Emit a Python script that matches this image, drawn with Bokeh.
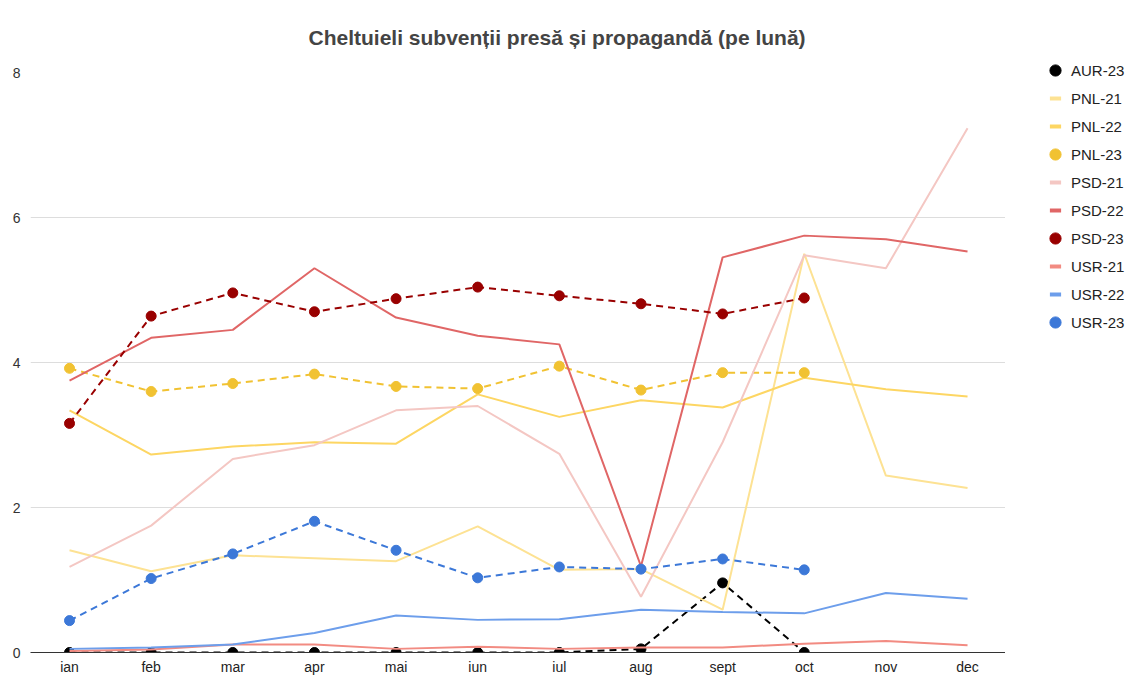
from bokeh.plotting import figure
from bokeh.layouts import row
from bokeh.models import Range1d, Legend, LegendItem, FixedTicker, ColumnDataSource
from bokeh.embed import file_html
from bokeh.resources import INLINE

months = ["ian", "feb", "mar", "apr", "mai", "iun", "iul", "aug", "sept", "oct", "nov", "dec"]

aur_23 = [0, 0, 0, 0, 0, 0, 0, 0.05, 0.96, 0]
pnl_21 = [1.41, 1.12, 1.34, 1.30, 1.26, 1.74, 1.14, 1.15, 0.59, 5.50, 2.44, 2.27]
pnl_22 = [3.34, 2.73, 2.84, 2.90, 2.88, 3.56, 3.25, 3.48, 3.38, 3.79, 3.63, 3.53]
pnl_23 = [3.92, 3.60, 3.71, 3.84, 3.67, 3.64, 3.95, 3.62, 3.86, 3.86]
psd_21 = [1.18, 1.75, 2.67, 2.86, 3.34, 3.40, 2.74, 0.77, 2.90, 5.48, 5.30, 7.23]
psd_22 = [3.75, 4.34, 4.45, 5.30, 4.62, 4.37, 4.25, 1.19, 5.45, 5.75, 5.70, 5.53]
psd_23 = [3.16, 4.64, 4.96, 4.70, 4.88, 5.04, 4.92, 4.81, 4.67, 4.89]
usr_21 = [0.02, 0.04, 0.11, 0.11, 0.05, 0.08, 0.05, 0.07, 0.07, 0.12, 0.16, 0.10]
usr_22 = [0.05, 0.07, 0.11, 0.27, 0.51, 0.45, 0.46, 0.59, 0.56, 0.54, 0.82, 0.74]
usr_23 = [0.44, 1.02, 1.36, 1.81, 1.41, 1.03, 1.18, 1.15, 1.29, 1.14]

series = [
    ("AUR-23", aur_23, "#000000", True),
    ("PNL-21", pnl_21, "#fde293", False),
    ("PNL-22", pnl_22, "#fdd663", False),
    ("PNL-23", pnl_23, "#f1c232", True),
    ("PSD-21", psd_21, "#f4c7c3", False),
    ("PSD-22", psd_22, "#e06666", False),
    ("PSD-23", psd_23, "#990000", True),
    ("USR-21", usr_21, "#f28b82", False),
    ("USR-22", usr_22, "#6d9eeb", False),
    ("USR-23", usr_23, "#3c78d8", True),
]

FONT = "Liberation Sans"

p = figure(width=1005, height=678, output_backend="svg", toolbar_location=None,
           x_range=Range1d(-0.478, 11.465), y_range=Range1d(0, 8),
           min_border_left=30, min_border_right=0, min_border_top=68, min_border_bottom=26)
p.outline_line_color = None
p.background_fill_color = "white"
p.border_fill_color = "white"
p.frame_align = False

p.title.text = "Cheltuieli subvenții presă și propagandă (pe lună)"
p.title.align = "left"
p.title.offset = 278
p.title.text_font = FONT
p.title.text_font_size = "21px"
p.title.text_font_style = "bold"
p.title.text_color = "#444444"
p.title.standoff = 47

p.xaxis.ticker = FixedTicker(ticks=list(range(12)))
p.xaxis.major_label_overrides = {i: m for i, m in enumerate(months)}
p.xaxis.axis_line_color = "#333333"
p.xaxis.major_tick_line_color = None
p.xaxis.major_tick_out = 0
p.xaxis.major_tick_in = 0
p.xaxis.minor_tick_line_color = None
p.xaxis.minor_tick_out = 0
p.xaxis.major_label_text_font = FONT
p.xaxis.major_label_text_font_size = "14px"
p.xaxis.major_label_text_color = "#222222"
p.xaxis.major_label_standoff = 6
p.xgrid.grid_line_color = None

p.yaxis.ticker = FixedTicker(ticks=[0, 2, 4, 6, 8])
p.yaxis.axis_line_color = None
p.yaxis.major_tick_line_color = None
p.yaxis.major_tick_out = 0
p.yaxis.major_tick_in = 0
p.yaxis.minor_tick_line_color = None
p.yaxis.minor_tick_out = 0
p.yaxis.major_label_text_font = FONT
p.yaxis.major_label_text_font_size = "14px"
p.yaxis.major_label_text_color = "#333333"
p.yaxis.major_label_standoff = 10
p.ygrid.grid_line_color = "#dddddd"
p.ygrid.grid_line_width = 1

# legend lives in a narrow blank figure to the right of the chart
lg = figure(width=125, height=678, output_backend="svg", toolbar_location=None,
            x_axis_type=None, y_axis_type=None,
            min_border_left=0, min_border_right=0, min_border_top=0, min_border_bottom=0)
lg.outline_line_color = None
lg.xgrid.grid_line_color = None
lg.ygrid.grid_line_color = None
lg.background_fill_color = "white"
lg.border_fill_color = "white"
lg.frame_align = False

items = []
for name, vals, color, dotted in series:
    xs = list(range(len(vals)))
    src = ColumnDataSource(dict(x=xs, y=vals))
    if dotted:
        p.line("x", "y", source=src, line_color=color, line_width=2, line_dash="7 5")
        p.scatter("x", "y", source=src, size=10, marker="circle",
                  fill_color=color, line_color=color)
        key = lg.scatter("x", "y", source=src, size=0, marker="circle",
                         fill_color=color, line_color=color)
    else:
        p.line("x", "y", source=src, line_color=color, line_width=2)
        key = lg.scatter("x", "y", source=src, size=0, marker="dash",
                         line_color=color, line_width=4)
    items.append(LegendItem(label=name, renderers=[key]))

legend = Legend(items=items, location=(34, 342))
legend.glyph_width = 32
legend.glyph_height = 28
legend.label_height = 20
legend.spacing = 0
legend.label_standoff = 0
legend.padding = 0
legend.margin = 0
legend.border_line_color = None
legend.background_fill_alpha = 0
legend.label_text_font = FONT
legend.label_text_font_size = "15px"
legend.label_text_color = "#222222"
lg.add_layout(legend)

layout = row(p, lg, spacing=0)
open("out.html", "w").write(file_html(layout, INLINE))
